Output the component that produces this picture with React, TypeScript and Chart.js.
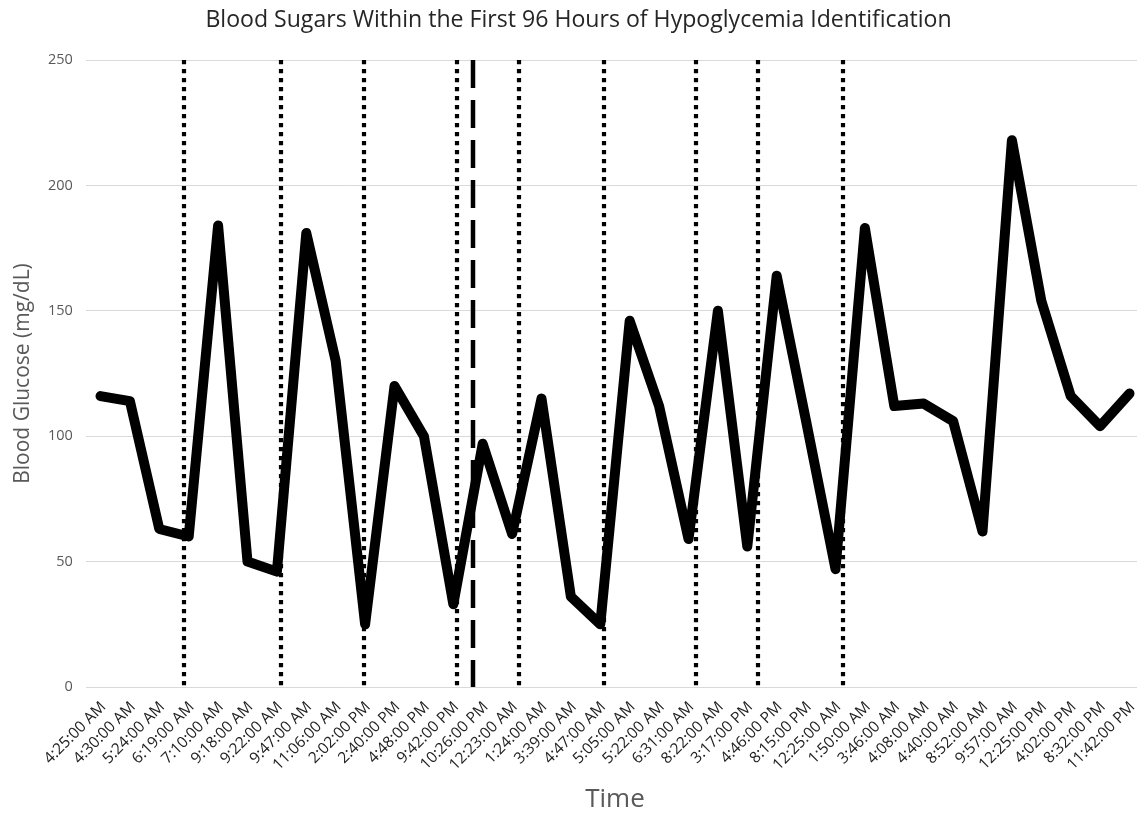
import React, { useEffect, useRef } from "react";
import { Chart, registerables } from "chart.js";

Chart.register(...registerables);

const chartTitle = "Blood Sugars Within the First 96 Hours of Hypoglycemia Identification";

const timeLabels: string[] = [
  "4:25:00 AM", "4:30:00 AM", "5:24:00 AM", "6:19:00 AM", "7:10:00 AM", "9:18:00 AM",
  "9:22:00 AM", "9:47:00 AM", "11:06:00 AM", "2:02:00 PM", "2:40:00 PM", "4:48:00 PM",
  "9:42:00 PM", "10:26:00 PM", "12:23:00 AM", "1:24:00 AM", "3:39:00 AM", "4:47:00 AM",
  "5:05:00 AM", "5:22:00 AM", "6:31:00 AM", "8:22:00 AM", "3:17:00 PM", "4:46:00 PM",
  "8:15:00 PM", "12:25:00 AM", "1:50:00 AM", "3:46:00 AM", "4:08:00 AM", "4:40:00 AM",
  "8:52:00 AM", "9:57:00 AM", "12:25:00 PM", "4:02:00 PM", "8:32:00 PM", "11:42:00 PM",
];

const glucoseValues: number[] = [
  116, 114, 63, 60, 184, 50, 46, 181, 130, 25, 120, 100,
  33, 97, 61, 115, 36, 25, 146, 112, 59, 150, 56, 164,
  106, 47, 183, 112, 113, 106, 62, 218, 154, 116, 104, 117,
];

// marker positions, in (fractional) category index units
const dottedMarkers: number[] = [2.84, 6.14, 8.96, 12.13, 14.23, 17.13, 20.26, 22.36, 25.24];
const dashedMarkers: number[] = [12.67];

const yTicks: number[] = [0, 50, 100, 150, 200, 250];

const FONT = "'Open Sans', 'DejaVu Sans', sans-serif";

const markerPlugin = {
  id: "markerLines",
  beforeDatasetsDraw(chart: any) {
    const { ctx, scales } = chart;
    const x = scales.x;
    const y = scales.y;
    const top = y.getPixelForValue(yTicks[yTicks.length - 1]);
    const bottom = y.getPixelForValue(yTicks[0]);
    ctx.save();
    ctx.strokeStyle = "#000";
    ctx.lineCap = "butt";
    ctx.lineWidth = 4.2;
    ctx.setLineDash([4.2, 4.8]);
    dottedMarkers.forEach((m) => {
      const px = Math.round(x.getPixelForValue(m));
      ctx.beginPath();
      ctx.moveTo(px, top);
      ctx.lineTo(px, bottom);
      ctx.stroke();
    });
    ctx.lineWidth = 4.5;
    ctx.setLineDash([28, 12]);
    dashedMarkers.forEach((m) => {
      const px = Math.round(x.getPixelForValue(m));
      ctx.beginPath();
      ctx.moveTo(px, top);
      ctx.lineTo(px, bottom);
      ctx.stroke();
    });
    ctx.restore();
  },
};

// title centred on the full (uncropped) chart width
const titlePlugin = {
  id: "centeredTitle",
  afterDraw(chart: any) {
    const { ctx } = chart;
    ctx.save();
    ctx.fillStyle = "#262626";
    ctx.font = `normal 23.1px ${FONT}`;
    ctx.textAlign = "center";
    ctx.textBaseline = "middle";
    ctx.fillText(chartTitle, 578.5, 20);
    ctx.restore();
  },
};

export default function App() {
  const canvasRef = useRef<HTMLCanvasElement | null>(null);

  useEffect(() => {
    if (!canvasRef.current) return;
    const chart = new Chart(canvasRef.current, {
      type: "line",
      data: {
        labels: timeLabels,
        datasets: [
          {
            data: glucoseValues,
            borderColor: "#000",
            borderWidth: 10,
            borderCapStyle: "round",
            borderJoinStyle: "round",
            pointRadius: 0,
            tension: 0,
            fill: false,
          },
        ],
      },
      options: {
        responsive: false,
        animation: false,
        devicePixelRatio: 1,
        layout: { padding: { left: 0, right: 25.8, top: 60, bottom: 0 } },
        plugins: {
          legend: { display: false },
          tooltip: { enabled: false },
          title: { display: false },
        },
        scales: {
          x: {
            type: "category",
            offset: true,
            grid: { display: false, drawTicks: false },
            border: { display: false },
            ticks: {
              color: "#222",
              font: { family: FONT, size: 15.5 },
              minRotation: 45,
              maxRotation: 45,
              autoSkip: false,
              padding: 11,
              labelOffset: 3,
            },
            title: {
              display: true,
              text: "Time",
              color: "#595959",
              font: { family: FONT, size: 26, lineHeight: 1 },
              padding: { top: 0, bottom: 0 },
            },
            afterFit(scale: any) {
              scale.height = 126;
            },
          },
          y: {
            min: 0,
            max: 250,
            grid: { color: "#d9d9d9", lineWidth: 1, drawTicks: false },
            border: { display: false },
            afterBuildTicks(scale: any) {
              scale.ticks = yTicks.map((v) => ({ value: v }));
            },
            ticks: {
              color: "#595959",
              font: { family: FONT, size: 14.5 },
              padding: 13,
            },
            title: {
              display: true,
              text: "Blood Glucose (mg/dL)",
              color: "#595959",
              font: { family: FONT, size: 21, lineHeight: 1.2 },
              padding: { top: 10, bottom: 0 },
            },
            afterFit(scale: any) {
              scale.width = 85.8;
            },
          },
        },
      },
      plugins: [markerPlugin, titlePlugin],
    });
    return () => chart.destroy();
  }, []);

  return (
    <div
      style={{
        position: "fixed",
        left: 0,
        top: 0,
        width: 1137,
        height: 813,
        overflow: "hidden",
        background: "#fff",
      }}
    >
      <canvas ref={canvasRef} width={1170} height={813} style={{ display: "block" }} />
    </div>
  );
}
